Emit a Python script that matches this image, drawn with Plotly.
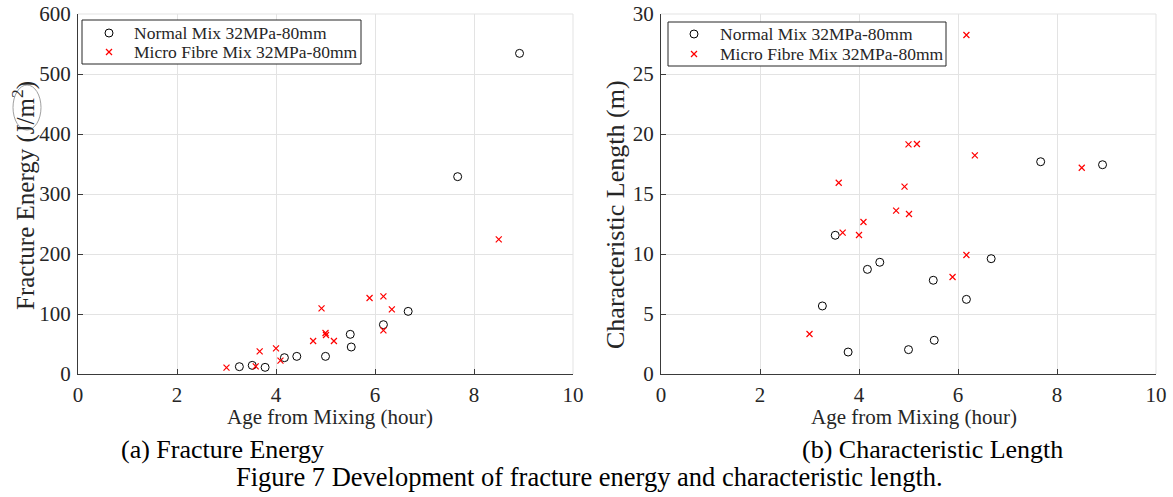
import plotly.graph_objects as go

# ---------------- data ----------------
normal_age = [3.26, 3.52, 3.78, 4.17, 4.42, 5.0, 5.5, 5.52, 6.17, 6.67, 7.67, 8.92]
normal_energy = [12.2, 14.4, 11.1, 27.2, 29.4, 29.4, 66.1, 45.0, 82.2, 104.4, 328.9, 534.4]
normal_length = [5.67, 11.56, 1.83, 8.72, 9.31, 2.03, 7.81, 2.81, 6.22, 9.61, 17.69, 17.44]

fibre_age = [3.0, 3.59, 3.67, 4.0, 4.09, 4.75, 4.92, 5.0, 5.01, 5.17, 5.89, 6.17, 6.17, 6.34, 8.5]
fibre_energy = [10.6, 12.8, 37.8, 42.8, 22.2, 55.0, 109.4, 68.3, 65.0, 55.0, 126.7, 129.4, 72.8, 107.8, 224.4]
fibre_length = [3.33, 15.94, 11.78, 11.58, 12.67, 13.61, 15.61, 19.14, 13.33, 19.17, 8.08, 28.25, 9.92, 18.22, 17.19]

x_ticks = [0, 2, 4, 6, 8, 10]
energy_ticks = [0, 100, 200, 300, 400, 500, 600]
length_ticks = [0, 5, 10, 15, 20, 25, 30]

normal_name = "Normal Mix 32MPa-80mm"
fibre_name = "Micro Fibre Mix 32MPa-80mm"

# ---------------- figure ----------------
W, H = 1173, 497
FONT = "Liberation Serif"

def px_x(p):
    return p / W

def px_y(p):
    return 1 - p / H

fig = go.Figure()

circle = dict(symbol="circle-open", size=8, color="black", line=dict(width=1, color="black"))
cross = dict(symbol="x-thin-open", size=6, color="red", line=dict(width=1.2, color="red"))

fig.add_trace(go.Scatter(x=normal_age, y=normal_energy, mode="markers", marker=circle,
                         name=normal_name, xaxis="x", yaxis="y"))
fig.add_trace(go.Scatter(x=fibre_age, y=fibre_energy, mode="markers", marker=cross,
                         name=fibre_name, xaxis="x", yaxis="y"))
fig.add_trace(go.Scatter(x=normal_age, y=normal_length, mode="markers", marker=circle,
                         name=normal_name, xaxis="x2", yaxis="y2"))
fig.add_trace(go.Scatter(x=fibre_age, y=fibre_length, mode="markers", marker=cross,
                         name=fibre_name, xaxis="x2", yaxis="y2"))

L1, R1 = 78, 573
L2, R2 = 661, 1156
TOP, BOT = 14, 374

axis_common = dict(
    showgrid=True, gridcolor="#e3e3e3", gridwidth=1,
    zeroline=False, showline=True, linecolor="#3a3a3a", linewidth=1,
    ticks="inside", ticklen=5, tickcolor="#3a3a3a",
    tickfont=dict(family=FONT, size=21, color="#262626"),
    automargin=False, ticklabelstandoff=2,
)

fig.update_layout(
    width=W, height=H,
    margin=dict(l=0, r=0, t=0, b=0, pad=0, autoexpand=False),
    paper_bgcolor="white", plot_bgcolor="white",
    font=dict(family=FONT, color="#262626"),
    showlegend=False,
    xaxis=dict(domain=[px_x(L1), px_x(R1)], range=[0, 10], tickvals=x_ticks,
               anchor="y", **axis_common),
    yaxis=dict(domain=[px_y(BOT), px_y(TOP)], range=[0, 600], tickvals=energy_ticks,
               anchor="x", **axis_common),
    xaxis2=dict(domain=[px_x(L2), px_x(R2)], range=[0, 10], tickvals=x_ticks,
                anchor="y2", **axis_common),
    yaxis2=dict(domain=[px_y(BOT), px_y(TOP)], range=[0, 30], tickvals=length_ticks,
                anchor="x2", **axis_common),
)

# light frame on top and right (box edges)
for (l, r) in [(L1, R1), (L2, R2)]:
    fig.add_shape(type="line", xref="paper", yref="paper",
                  x0=px_x(l), x1=px_x(r), y0=px_y(TOP), y1=px_y(TOP),
                  line=dict(color="#e3e3e3", width=1), layer="below")
    fig.add_shape(type="line", xref="paper", yref="paper",
                  x0=px_x(r), x1=px_x(r), y0=px_y(BOT), y1=px_y(TOP),
                  line=dict(color="#e3e3e3", width=1), layer="below")

# ---------------- legends (drawn as boxes + text) ----------------
legend_boxes = [
    dict(x0=82, x1=361, y0=20, y1=64, mx=109, tx=132, r1=33, r2=52),
    dict(x0=668, x1=946, y0=22, y1=66, mx=694, tx=718, r1=34, r2=54),
]
for lb in legend_boxes:
    fig.add_shape(type="rect", xref="paper", yref="paper",
                  x0=px_x(lb["x0"]), x1=px_x(lb["x1"]), y0=px_y(lb["y1"]), y1=px_y(lb["y0"]),
                  line=dict(color="#262626", width=1), fillcolor="white")
    # circle symbol
    fig.add_shape(type="circle", xref="paper", yref="paper",
                  x0=px_x(lb["mx"] - 4), x1=px_x(lb["mx"] + 4),
                  y0=px_y(lb["r1"] + 4), y1=px_y(lb["r1"] - 4),
                  line=dict(color="black", width=1))
    # cross symbol
    for s in (1, -1):
        fig.add_shape(type="line", xref="paper", yref="paper",
                      x0=px_x(lb["mx"] - 3), x1=px_x(lb["mx"] + 3),
                      y0=px_y(lb["r2"] - 3 * s), y1=px_y(lb["r2"] + 3 * s),
                      line=dict(color="red", width=1.2))
    for txt, ry in ((normal_name, lb["r1"]), (fibre_name, lb["r2"])):
        fig.add_annotation(text=txt, x=px_x(lb["tx"]), y=px_y(ry), xref="paper", yref="paper",
                           xanchor="left", yanchor="middle", showarrow=False,
                           font=dict(family=FONT, size=17.5, color="#262626"))

# ---------------- axis titles, sub captions, figure caption ----------------
ann = [
    dict(text="Age from Mixing (hour)", x=(L1 + R1) / 2 + 4, y=417, size=21),
    dict(text="Age from Mixing (hour)", x=(L2 + R2) / 2 + 5, y=417, size=21),
    dict(text="Fracture Energy (J/m<sup>2</sup>)", x=24, y=196, size=25, angle=-90),
    dict(text="Characteristic Length (m)", x=615, y=215, size=26, angle=-90),
    dict(text="(a) Fracture Energy", x=223, y=449, size=26, color="black"),
    dict(text="(b) Characteristic Length", x=932, y=449, size=26, color="black"),
    dict(text="Figure 7 Development of fracture energy and characteristic length.",
         x=589, y=477, size=26.5, color="black"),
]
for a in ann:
    fig.add_annotation(text=a["text"], x=px_x(a["x"]), y=px_y(a["y"]), xref="paper", yref="paper",
                       xanchor="center", yanchor="middle", showarrow=False,
                       textangle=a.get("angle", 0),
                       font=dict(family=FONT, size=a["size"], color=a.get("color", "#262626")))

# faint hand-drawn ellipse around "m²" in the reference
fig.add_shape(type="circle", xref="paper", yref="paper",
              x0=px_x(13), x1=px_x(41), y0=px_y(130), y1=px_y(85),
              line=dict(color="#a0a0a0", width=1))

fig.write_html("out.html")
